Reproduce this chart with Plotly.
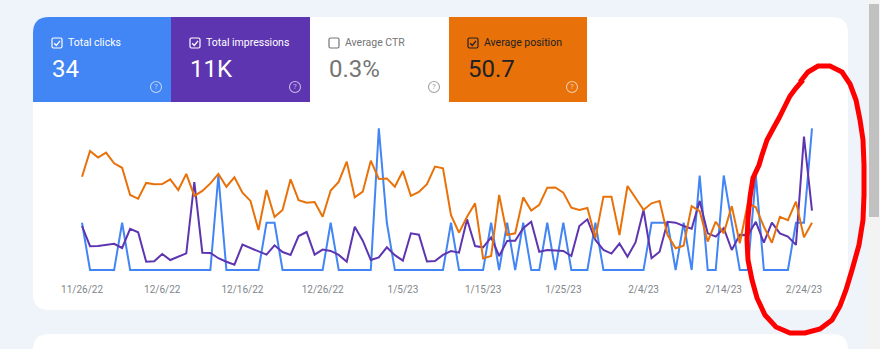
import pandas as pd
import plotly.graph_objects as go

W, H = 880, 349

# ---------------- data ----------------
start_date = "2022-11-26"
n_days = 92
dates = pd.date_range(start_date, periods=n_days)

clicks = [1, 0, 0, 0, 0, 1, 0, 0, 0, 0,
          0, 0, 0, 0, 0, 0, 0, 2, 0, 0,
          0, 0, 0, 1, 1, 0, 0, 0, 0, 0,
          0, 1, 0, 0, 0, 0, 0, 3, 1, 0,
          0, 0, 0, 0, 0, 0, 1, 0, 0, 0,
          0, 1, 0, 1, 0, 1, 0, 0, 1, 0,
          1, 0, 0, 0, 1, 0, 0, 0, 0, 0,
          0, 1, 1, 1, 0, 1, 0, 2, 0, 0,
          2, 1, 0, 0, 2, 0, 0, 0, 0, 1,
          1, 3]

impressions = [198, 107, 108, 114, 118, 99, 185, 170, 37, 39,
               72, 45, 60, 75, 396, 78, 77, 53, 37, 24,
               114, 98, 82, 69, 111, 81, 68, 153, 171, 69,
               92, 86, 68, 37, 195, 132, 45, 57, 102, 67,
               42, 165, 159, 38, 40, 68, 85, 78, 228, 108,
               102, 147, 63, 131, 132, 188, 217, 82, 90, 89,
               86, 63, 198, 228, 135, 90, 74, 119, 60, 124,
               270, 53, 82, 217, 213, 198, 186, 311, 165, 150,
               188, 90, 158, 157, 217, 123, 213, 165, 150, 113,
               600, 267]

position = [40.6, 29.7, 32.5, 30.4, 34.9, 36.8, 48.3, 49.9, 43.2, 43.8,
            43.7, 41.7, 46.2, 39.4, 48.7, 46.6, 43.4, 39.4, 44.8, 40.8,
            47.3, 50.8, 63.1, 46.2, 57.6, 54.6, 41.7, 50.5, 51.6, 51.3,
            57.5, 46.4, 42.8, 34.2, 49.3, 46.9, 33.8, 41.5, 41.3, 44.8,
            38.2, 48.7, 47.0, 43.7, 36.3, 37.0, 56.8, 64.2, 57.5, 51.8,
            75.1, 74.1, 48.3, 65.2, 64.5, 49.3, 54.9, 52.5, 45.2, 45.1,
            47.3, 53.7, 54.6, 53.8, 66.5, 49.0, 49.0, 65.2, 44.5, 49.6,
            54.6, 51.8, 50.8, 65.2, 70.8, 69.7, 53.0, 55.1, 68.0, 59.6,
            64.5, 53.0, 68.7, 51.8, 53.5, 61.7, 68.5, 57.5, 58.9, 51.1,
            66.2, 60.0]

tick_dates = ["2022-11-26", "2022-12-06", "2022-12-16", "2022-12-26", "2023-01-05",
              "2023-01-15", "2023-01-25", "2023-02-04", "2023-02-14", "2023-02-24"]
tick_labels = ["11/26/22", "12/6/22", "12/16/22", "12/26/22", "1/5/23",
               "1/15/23", "1/25/23", "2/4/23", "2/14/23", "2/24/23"]

card_labels = ["Total clicks", "Total impressions", "Average CTR", "Average position"]
card_values = ["34", "11K", "0.3%", "50.7"]

C_CLICKS = "#4285f4"
C_IMPR = "#5e35b1"
C_POS = "#e8710a"

# ---------------- helpers (pixel -> paper) ----------------
def fx(x):
    return x / W

def fy(y):
    return 1 - y / H

def P(x, y):
    return f"{fx(x):.5f},{fy(y):.5f}"

def rrect(x0, y0, x1, y1, tl=0, tr=0, br=0, bl=0):
    s = f"M {P(x0 + tl, y0)} L {P(x1 - tr, y0)} "
    if tr:
        s += f"Q {P(x1, y0)} {P(x1, y0 + tr)} "
    s += f"L {P(x1, y1 - br)} "
    if br:
        s += f"Q {P(x1, y1)} {P(x1 - br, y1)} "
    s += f"L {P(x0 + bl, y1)} "
    if bl:
        s += f"Q {P(x0, y1)} {P(x0, y1 - bl)} "
    s += f"L {P(x0, y0 + tl)} "
    if tl:
        s += f"Q {P(x0, y0)} {P(x0 + tl, y0)} "
    return s + "Z"

shapes = []
annotations = []

# background cards
shapes.append(dict(type="path", xref="paper", yref="paper", layer="below",
                   path=rrect(33, 17, 848, 310, 16, 16, 16, 16),
                   fillcolor="white", line=dict(width=0)))
shapes.append(dict(type="path", xref="paper", yref="paper", layer="below",
                   path=rrect(33, 334, 848, 360, 16, 16, 0, 0),
                   fillcolor="white", line=dict(width=0)))

# scrollbar
shapes.append(dict(type="rect", xref="paper", yref="paper", layer="below",
                   x0=fx(866), x1=fx(880), y0=fy(0), y1=fy(349),
                   fillcolor="#f3f3f3", line=dict(width=0)))
shapes.append(dict(type="rect", xref="paper", yref="paper", layer="below",
                   x0=fx(869), x1=fx(879), y0=fy(4), y1=fy(217),
                   fillcolor="#c1c1c1", line=dict(width=0)))

# metric cards
card_x = [(33, 171), (171, 310), (310, 449), (449, 587)]
card_bg = [C_CLICKS, C_IMPR, "white", C_POS]
card_fg = ["white", "white", "#757575", "#202124"]
card_chk = [True, True, False, True]
card_help = ["rgba(255,255,255,0.65)", "rgba(255,255,255,0.65)", "#a0a4a8",
             "rgba(255,255,255,0.65)"]
cy0, cy1 = 17, 102
for i, (x0, x1) in enumerate(card_x):
    tl = 16 if i == 0 else 0
    shapes.append(dict(type="path", xref="paper", yref="paper", layer="below",
                       path=rrect(x0, cy0, x1, cy1, tl, 0, 0, 0),
                       fillcolor=card_bg[i], line=dict(width=0)))
    bx = x0 + 19
    by = 38
    shapes.append(dict(type="path", xref="paper", yref="paper", layer="above",
                       path=rrect(bx, by, bx + 10, by + 10, 1.5, 1.5, 1.5, 1.5),
                       fillcolor="rgba(0,0,0,0)",
                       line=dict(color=card_fg[i], width=1.2)))
    if card_chk[i]:
        shapes.append(dict(type="path", xref="paper", yref="paper", layer="above",
                           path=f"M {P(bx + 2.2, by + 5.2)} L {P(bx + 4.3, by + 7.4)} L {P(bx + 8, by + 2.8)}",
                           line=dict(color=card_fg[i], width=1.3)))
    annotations.append(dict(xref="paper", yref="paper", x=fx(x0 + 33), y=fy(43),
                            xanchor="left", yanchor="middle", showarrow=False,
                            text=card_labels[i],
                            font=dict(family="Roboto", size=10.5, color=card_fg[i])))
    annotations.append(dict(xref="paper", yref="paper", x=fx(x0 + 17), y=fy(69),
                            xanchor="left", yanchor="middle", showarrow=False,
                            text=card_values[i],
                            font=dict(family="Roboto", size=24, color=card_fg[i])))
    hx, hy = x1 - 15, 87
    shapes.append(dict(type="circle", xref="paper", yref="paper", layer="above",
                       x0=fx(hx - 5.5), x1=fx(hx + 5.5), y0=fy(hy + 5.5), y1=fy(hy - 5.5),
                       line=dict(color=card_help[i], width=1.1)))
    annotations.append(dict(xref="paper", yref="paper", x=fx(hx), y=fy(hy),
                            xanchor="center", yanchor="middle", showarrow=False,
                            text="?", font=dict(family="Roboto", size=8, color=card_help[i])))

# red hand-drawn circle
red_pts = [(800, 82), (808, 72), (818, 66), (830, 66), (842, 72), (850, 84), (856, 100),
           (860, 120), (863, 140), (864, 165), (864, 195), (863, 220), (859, 245),
           (852, 270), (846, 290), (840, 306), (832, 320), (820, 329), (805, 333),
           (790, 333), (776, 327), (765, 315), (757, 298), (752, 280), (748, 260),
           (747, 240), (748, 218), (750, 197), (753, 178), (759, 165), (762, 155),
           (767, 140), (774, 127), (779, 118), (785, 106), (790, 96), (796, 88), (803, 80)]
red_path = "M " + " L ".join(P(x, y) for x, y in red_pts)
shapes.append(dict(type="path", xref="paper", yref="paper", layer="above",
                   path=red_path, line=dict(color="#ff0000", width=5)))

# ---------------- traces ----------------
fig = go.Figure()
fig.add_trace(go.Scatter(x=dates, y=position, mode="lines", yaxis="y3",
                         line=dict(color=C_POS, width=2), name="Average position"))
fig.add_trace(go.Scatter(x=dates, y=impressions, mode="lines", yaxis="y2",
                         line=dict(color=C_IMPR, width=2), name="Total impressions"))
fig.add_trace(go.Scatter(x=dates, y=clicks, mode="lines", yaxis="y",
                         line=dict(color=C_CLICKS, width=2), name="Total clicks"))

ydom = [fy(275), fy(120)]
fig.update_layout(
    width=W, height=H,
    margin=dict(l=0, r=0, t=0, b=0, pad=0, autoexpand=False),
    paper_bgcolor="#eff3fa",
    plot_bgcolor="rgba(0,0,0,0)",
    showlegend=False,
    shapes=shapes,
    annotations=annotations,
    xaxis=dict(domain=[fx(78), fx(816)], type="date",
               range=["2022-11-25 12:00", "2023-02-25 12:00"],
               tickvals=tick_dates, ticktext=tick_labels,
               ticks="outside", ticklen=5, tickcolor="rgba(0,0,0,0)",
               showgrid=False, zeroline=False, showline=False, automargin=False,
               tickfont=dict(family="Roboto", size=10, color="#80868b")),
    yaxis=dict(domain=ydom, range=[-0.106, 3.176], visible=False, automargin=False),
    yaxis2=dict(domain=ydom, overlaying="y", range=[-22.5, 675], visible=False,
                automargin=False),
    yaxis3=dict(domain=ydom, overlaying="y", range=[82.1, 16.62], visible=False,
                automargin=False),
)

fig.write_html("out.html")
